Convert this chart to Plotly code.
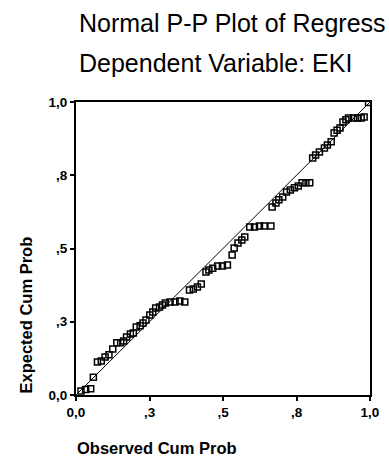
import plotly.graph_objects as go

# Observed cumulative probability (x) and expected cumulative probability (y)
observed_cum_prob = [
    0.017, 0.033, 0.050, 0.059, 0.073, 0.086, 0.099, 0.112, 0.125, 0.139,
    0.152, 0.162, 0.172, 0.185, 0.195, 0.205, 0.218, 0.228, 0.238, 0.251,
    0.261, 0.271, 0.284, 0.294, 0.304, 0.320, 0.337, 0.353, 0.370, 0.386,
    0.399, 0.413, 0.426, 0.442, 0.452, 0.465, 0.482, 0.498, 0.515, 0.531,
    0.538, 0.551, 0.564, 0.574, 0.591, 0.607, 0.624, 0.640, 0.663, 0.667,
    0.680, 0.690, 0.703, 0.716, 0.729, 0.743, 0.756, 0.769, 0.782, 0.795,
    0.805, 0.815, 0.828, 0.845, 0.855, 0.868, 0.878, 0.888, 0.898, 0.908,
    0.918, 0.927, 0.944, 0.957, 0.970, 0.980, 0.995,
]
expected_cum_prob = [
    0.014, 0.019, 0.021, 0.061, 0.113, 0.116, 0.130, 0.137, 0.157, 0.178,
    0.178, 0.184, 0.198, 0.208, 0.212, 0.232, 0.236, 0.246, 0.256, 0.273,
    0.283, 0.297, 0.300, 0.307, 0.314, 0.317, 0.317, 0.321, 0.317, 0.358,
    0.362, 0.369, 0.379, 0.420, 0.427, 0.433, 0.440, 0.440, 0.444, 0.478,
    0.502, 0.519, 0.529, 0.539, 0.573, 0.573, 0.577, 0.577, 0.577, 0.642,
    0.655, 0.666, 0.676, 0.693, 0.700, 0.707, 0.713, 0.724, 0.724, 0.724,
    0.809, 0.819, 0.829, 0.843, 0.853, 0.864, 0.894, 0.904, 0.911, 0.932,
    0.939, 0.945, 0.945, 0.945, 0.945, 0.949, 0.998,
]
diag_line = [0.0, 1.0]

tick_vals = [0.0, 0.25, 0.5, 0.75, 1.0]
tick_text = ["0,0", ",3", ",5", ",8", "1,0"]

title_line1 = "Normal P-P Plot of Regress"
title_line2 = "Dependent Variable: EKI"
x_title = "Observed Cum Prob"
y_title = "Expected Cum Prob"

FONT = "Liberation Sans, Arial, sans-serif"

fig = go.Figure()
fig.add_trace(go.Scatter(
    x=diag_line, y=diag_line, mode="lines",
    line=dict(color="black", width=1), hoverinfo="skip", showlegend=False,
))
fig.add_trace(go.Scatter(
    x=observed_cum_prob, y=expected_cum_prob, mode="markers",
    marker=dict(symbol="square-open", size=6, color="black",
                line=dict(color="black", width=1.5)),
    showlegend=False,
))

axis_common = dict(
    range=[0, 1], tickvals=tick_vals, ticktext=tick_text,
    showgrid=False, zeroline=False, showline=True, mirror=True,
    linecolor="black", linewidth=2, ticks="outside", ticklen=4,
    tickwidth=2, tickcolor="black",
    tickfont=dict(family=FONT, size=13.5, color="black", weight="bold"),
)

fig.update_xaxes(**axis_common)
fig.update_yaxes(**axis_common)

annotations = [
    dict(text=title_line1, x=0.0033, y=(395 - 23) / 293, xref="paper", yref="paper",
         xanchor="left", yanchor="middle", showarrow=False,
         font=dict(family=FONT, size=25, color="black")),
    dict(text=title_line2, x=0.0033, y=(395 - 63) / 293, xref="paper", yref="paper",
         xanchor="left", yanchor="middle", showarrow=False,
         font=dict(family=FONT, size=25, color="black")),
    dict(text=x_title, x=-0.003, y=(395 - 448) / 293, xref="paper", yref="paper",
         xanchor="left", yanchor="middle", showarrow=False,
         font=dict(family=FONT, size=16.5, color="black", weight="bold")),
    dict(text=y_title, x=(24 - 76) / 303, y=(395 - 315) / 293, xref="paper", yref="paper",
         xanchor="center", yanchor="middle", textangle=-90, showarrow=False,
         font=dict(family=FONT, size=16.5, color="black", weight="bold")),
]

fig.update_layout(
    width=389, height=463,
    margin=dict(l=76, r=10, t=102, b=68),
    paper_bgcolor="white", plot_bgcolor="white",
    annotations=annotations,
    showlegend=False,
)

fig.write_html("out.html", config={"displayModeBar": False},
               post_script="document.body.style.margin='0';document.body.style.overflow='hidden';")
